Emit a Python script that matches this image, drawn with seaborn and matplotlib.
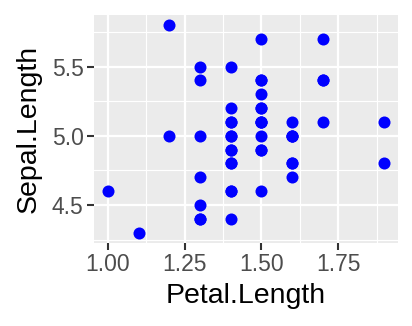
import matplotlib
matplotlib.use("Agg")
import matplotlib.pyplot as plt
import seaborn as sns
import pandas as pd
from matplotlib.ticker import FixedLocator

petal_length = [1.4, 1.4, 1.3, 1.5, 1.4, 1.7, 1.4, 1.5, 1.4, 1.5,
                1.5, 1.6, 1.4, 1.1, 1.2, 1.5, 1.3, 1.4, 1.7, 1.5,
                1.7, 1.5, 1.0, 1.7, 1.9, 1.6, 1.6, 1.5, 1.4, 1.6,
                1.6, 1.5, 1.5, 1.4, 1.5, 1.2, 1.3, 1.4, 1.3, 1.5,
                1.3, 1.3, 1.3, 1.6, 1.9, 1.4, 1.6, 1.4, 1.5, 1.4]
sepal_length = [5.1, 4.9, 4.7, 4.6, 5.0, 5.4, 4.6, 5.0, 4.4, 4.9,
                5.4, 4.8, 4.8, 4.3, 5.8, 5.7, 5.4, 5.1, 5.7, 5.1,
                5.4, 5.1, 4.6, 5.1, 4.8, 5.0, 5.0, 5.2, 5.2, 4.7,
                4.8, 5.4, 5.2, 5.5, 4.9, 5.0, 5.5, 4.9, 4.4, 5.1,
                5.0, 4.5, 4.4, 5.0, 5.1, 4.8, 5.1, 4.6, 5.3, 5.0]
x_ticks = [1.00, 1.25, 1.50, 1.75]
x_tick_labels = ["1.00", "1.25", "1.50", "1.75"]
y_ticks = [4.5, 5.0, 5.5]
y_tick_labels = ["4.5", "5.0", "5.5"]

df = pd.DataFrame({"Petal.Length": petal_length, "Sepal.Length": sepal_length})

plt.rcParams['font.family'] = ['Liberation Sans', 'DejaVu Sans']

fig = plt.figure(figsize=(4.12, 3.26), dpi=100)
ax = fig.add_axes([94/412, 1 - 243/326, (398-94)/412, (243-14.7)/326])
ax.set_facecolor("#EBEBEB")

sns.scatterplot(data=df, x="Petal.Length", y="Sepal.Length", ax=ax,
                color="#0000FF", s=75, linewidth=0, zorder=3)

xr = max(petal_length) - min(petal_length)
yr = max(sepal_length) - min(sepal_length)
ax.set_xlim(min(petal_length) - 0.05*xr, max(petal_length) + 0.05*xr)
ax.set_ylim(min(sepal_length) - 0.05*yr, max(sepal_length) + 0.05*yr)

ax.xaxis.set_major_locator(FixedLocator(x_ticks))
ax.set_xticklabels(x_tick_labels)
ax.yaxis.set_major_locator(FixedLocator(y_ticks))
ax.set_yticklabels(y_tick_labels)
ax.xaxis.set_minor_locator(FixedLocator([1.125, 1.375, 1.625, 1.875]))
ax.yaxis.set_minor_locator(FixedLocator([4.25, 4.75, 5.25, 5.75]))

ax.grid(which="major", color="white", linewidth=1.6, zorder=1)
ax.grid(which="minor", color="white", linewidth=0.8, zorder=1)
ax.set_axisbelow(True)
for sp in ax.spines.values():
    sp.set_visible(False)

ax.tick_params(which="major", length=5, width=1.5, color="#333333",
               labelsize=16.5, labelcolor="#4D4D4D", pad=2.5)
ax.tick_params(which="minor", length=0)

ax.set_xlabel("Petal.Length", fontsize=20.5, color="black", labelpad=5)
ax.set_ylabel("Sepal.Length", fontsize=20.5, color="black", labelpad=7)

fig.savefig("out.png", dpi=100)
